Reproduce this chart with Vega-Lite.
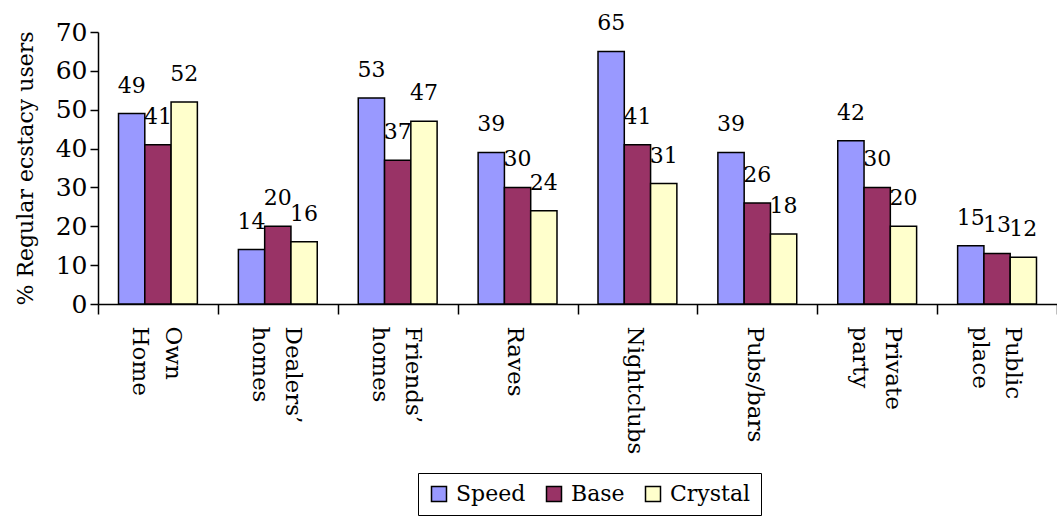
{
  "$schema": "https://vega.github.io/schema/vega-lite/v6.json",
  "width": 959,
  "height": 272,
  "autosize": {"type": "none"},
  "padding": {"left": 98, "top": 32, "right": 0, "bottom": 216},
  "config": {"view": {"stroke": null}, "font": "DejaVu Serif"},
  "data": {
    "values": [
      {"place": "Own Home", "drug": "Speed", "pct": 49},
      {"place": "Own Home", "drug": "Base", "pct": 41},
      {"place": "Own Home", "drug": "Crystal", "pct": 52},
      {"place": "Dealers’ homes", "drug": "Speed", "pct": 14},
      {"place": "Dealers’ homes", "drug": "Base", "pct": 20},
      {"place": "Dealers’ homes", "drug": "Crystal", "pct": 16},
      {"place": "Friends’ homes", "drug": "Speed", "pct": 53},
      {"place": "Friends’ homes", "drug": "Base", "pct": 37},
      {"place": "Friends’ homes", "drug": "Crystal", "pct": 47},
      {"place": "Raves", "drug": "Speed", "pct": 39},
      {"place": "Raves", "drug": "Base", "pct": 30},
      {"place": "Raves", "drug": "Crystal", "pct": 24},
      {"place": "Nightclubs", "drug": "Speed", "pct": 65},
      {"place": "Nightclubs", "drug": "Base", "pct": 41},
      {"place": "Nightclubs", "drug": "Crystal", "pct": 31},
      {"place": "Pubs/bars", "drug": "Speed", "pct": 39},
      {"place": "Pubs/bars", "drug": "Base", "pct": 26},
      {"place": "Pubs/bars", "drug": "Crystal", "pct": 18},
      {"place": "Private party", "drug": "Speed", "pct": 42},
      {"place": "Private party", "drug": "Base", "pct": 30},
      {"place": "Private party", "drug": "Crystal", "pct": 20},
      {"place": "Public place", "drug": "Speed", "pct": 15},
      {"place": "Public place", "drug": "Base", "pct": 13},
      {"place": "Public place", "drug": "Crystal", "pct": 12}
    ]
  },
  "encoding": {
    "x": {
      "field": "place",
      "type": "nominal",
      "sort": null,
      "scale": {"paddingInner": 0, "paddingOuter": 0},
      "axis": {
        "title": null,
        "labelAngle": 90,
        "labelFontSize": 23,
        "labelExpr": "split(datum.label, ' ')",
        "labelLineHeight": 33,
        "labelOffset": {"condition": {"test": "indexof(datum.label, ' ') >= 0", "value": 15}, "value": -3},
        "tickBand": "extent",
        "tickSize": 10,
        "tickColor": "black",
        "tickWidth": 1.5,
        "domainColor": "black",
        "domainWidth": 1.5,
        "labelPadding": 12,
        "labelColor": "black",
        "labelLimit": 400
      }
    },
    "xOffset": {
      "field": "drug",
      "type": "nominal",
      "sort": ["Speed", "Base", "Crystal"],
      "scale": {"paddingInner": 0, "paddingOuter": 0.78}
    },
    "y": {
      "field": "pct",
      "type": "quantitative",
      "scale": {"domain": [0, 70]},
      "axis": {
        "values": [0, 10, 20, 30, 40, 50, 60, 70],
        "grid": false,
        "tickSize": 8,
        "tickColor": "black",
        "tickWidth": 1.5,
        "domainColor": "black",
        "domainWidth": 1.5,
        "labelFontSize": 25,
        "labelPadding": 3,
        "labelColor": "black",
        "title": "% Regular ecstacy users",
        "titleFontSize": 22,
        "titleFontWeight": "normal",
        "titleColor": "black",
        "titlePadding": 18
      }
    }
  },
  "layer": [
    {
      "mark": {"type": "bar", "stroke": "black", "strokeWidth": 1.5},
      "encoding": {
        "color": {
          "field": "drug",
          "type": "nominal",
          "scale": {"domain": ["Speed", "Base", "Crystal"], "range": ["#9999FF", "#993366", "#FFFFCC"]},
          "legend": {
            "orient": "none",
            "legendX": 320,
            "legendY": 441,
            "direction": "horizontal",
            "title": null,
            "strokeColor": "black",
            "padding": 10,
            "fillColor": "white",
            "labelFontSize": 22,
            "labelColor": "black",
            "symbolType": "square",
            "symbolSize": 225,
            "symbolStrokeColor": "black",
            "symbolStrokeWidth": 1.5,
            "symbolOpacity": 1,
            "columnPadding": 17,
            "labelOffset": 6
          }
        }
      }
    },
    {
      "mark": {"type": "text", "baseline": "alphabetic", "dy": -21, "fontSize": 22, "color": "black"},
      "encoding": {"text": {"field": "pct", "type": "quantitative"}}
    }
  ]
}
